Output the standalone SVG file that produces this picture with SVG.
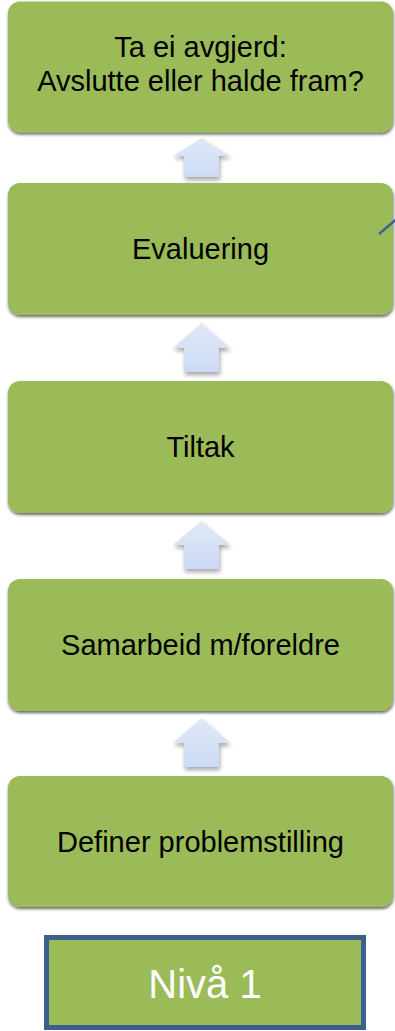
<svg xmlns="http://www.w3.org/2000/svg" width="395" height="1031" viewBox="0 0 395 1031">
<style>
.box{fill:#9bbb59;filter:url(#sh)}
.lbl{font-family:"Liberation Sans",Arial,sans-serif;font-size:29px;fill:#000;text-anchor:middle}
.arr{fill:url(#ag);filter:url(#sh2)}
</style>
<defs>
<filter id="sh" x="-5%" y="-10%" width="110%" height="125%">
<feDropShadow dx="0.5" dy="2" stdDeviation="1.5" flood-color="#000" flood-opacity="0.6"/>
</filter>
<filter id="sh2" x="-20%" y="-20%" width="150%" height="150%">
<feDropShadow dx="1" dy="3" stdDeviation="2" flood-color="#000" flood-opacity="0.35"/>
</filter>
<linearGradient id="ag" x1="0" y1="0" x2="0" y2="1">
<stop offset="0" stop-color="#e1e9f6"/>
<stop offset="1" stop-color="#cbdaf5"/>
</linearGradient>
</defs>
<rect width="395" height="1031" fill="#fff"/>
<g id="connectors">
<polygon class="arr" points="201.5,138 230,156 219,156 219,177 184,177 184,156 173,156"/>
<polygon class="arr" points="201.5,323 230,348 219,348 219,372 184,372 184,348 173,348"/>
<polygon class="arr" points="201.5,521 230,545 219,545 219,569 184,569 184,545 173,545"/>
<polygon class="arr" points="201.5,718 230,743 219,743 219,767 184,767 184,743 173,743"/>
</g>
<g id="n1">
<rect class="box" x="8" y="1.5" width="385" height="131" rx="12"/>
<text class="lbl" x="200.5" y="57">Ta ei avgjerd:</text>
<text class="lbl" x="200.5" y="91">Avslutte eller halde fram?</text>
</g>
<g id="n2">
<rect class="box" x="8" y="183" width="385" height="132" rx="12"/>
<text class="lbl" x="200.5" y="259">Evaluering</text>
<line x1="379" y1="234" x2="400" y2="216" stroke="#3f6196" stroke-width="2.5"/>
</g>
<g id="n3">
<rect class="box" x="8" y="381" width="385" height="132" rx="12"/>
<text class="lbl" x="200.5" y="457">Tiltak</text>
</g>
<g id="n4">
<rect class="box" x="8" y="579" width="385" height="132" rx="12"/>
<text class="lbl" x="200.5" y="655">Samarbeid m/foreldre</text>
</g>
<g id="n5">
<rect class="box" x="8" y="776" width="385" height="131" rx="12"/>
<text class="lbl" x="200.5" y="852">Definer problemstilling</text>
</g>
<g id="level">
<rect x="46.5" y="937.5" width="317" height="90" fill="#9bbb59" stroke="#3c5f8d" stroke-width="5"/>
<text x="205" y="998" font-family="Liberation Sans,Arial,sans-serif" font-size="40" fill="#fff" text-anchor="middle">Nivå 1</text>
</g>
</svg>
